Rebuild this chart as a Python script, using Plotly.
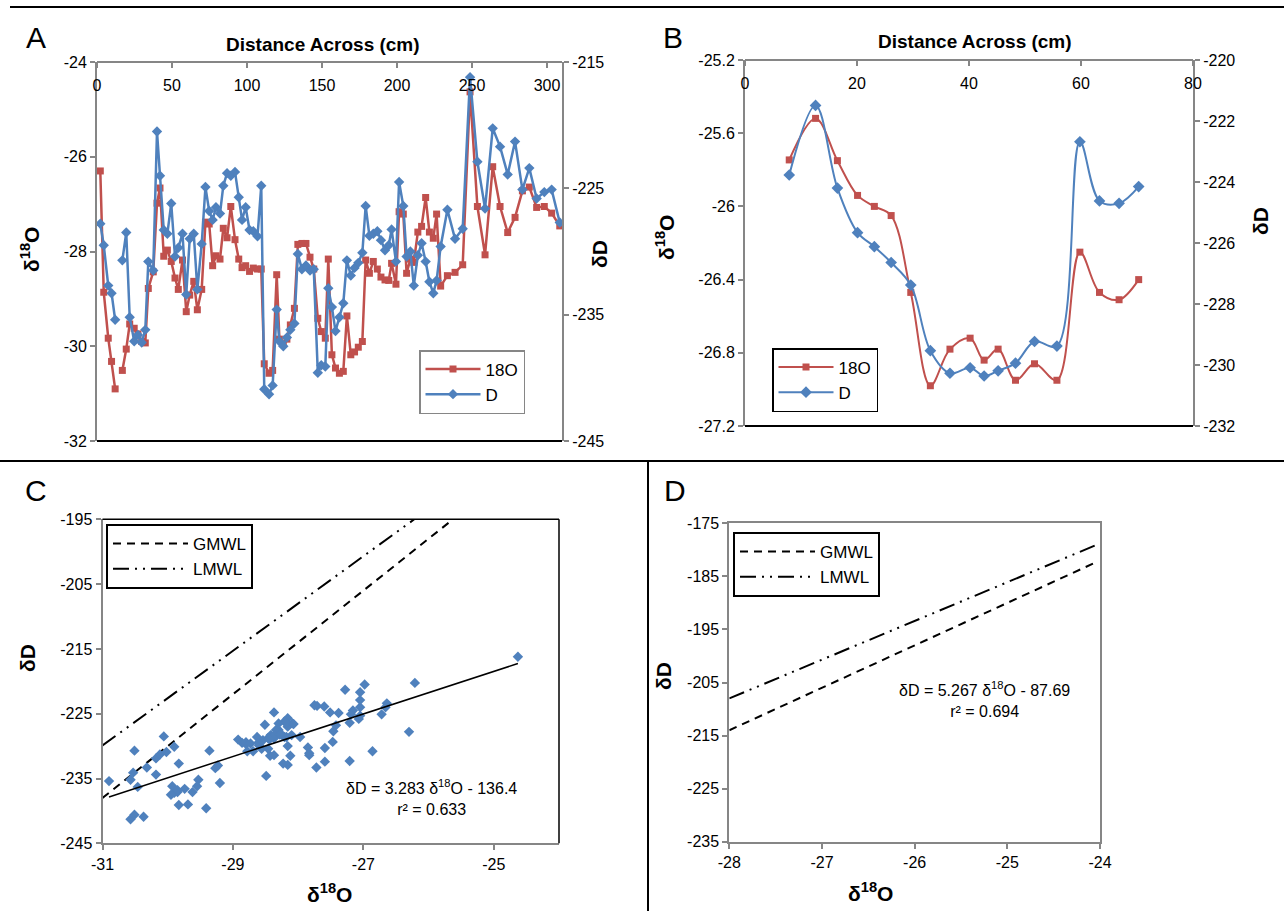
import plotly.graph_objects as go

W, H = 1284, 911
FONT = "Liberation Sans, Arial, sans-serif"
NARROW = "Liberation Sans Narrow, Arial Narrow, Liberation Sans, sans-serif"
RED = "#C0504D"
BLUE = "#4F81BD"
GRAY = "#868686"

# ---------------- Panel A data ----------------
a_dist = [2.2, 4.5, 7.5, 9.7, 12.1, 14.5, 16.9, 19.5, 21.8, 24.8, 27.3, 29.8, 32.2, 34.2, 37.5,
          40.0, 42.0, 44.5, 46.9, 49.5, 52.0, 54.2, 57.0, 59.5, 61.8, 64.5, 66.9, 69.8, 72.3,
          74.8, 77.1, 79.3, 82.0, 84.2, 86.7, 89.2, 92.0, 94.5, 96.7, 99.1, 101.7, 104.2, 107.0,
          109.5, 111.5, 114.7, 117.1, 119.8, 121.6, 124.2, 126.6, 128.9, 131.6, 133.9, 136.6,
          139.3, 142.0, 144.5, 147.2, 149.5, 152.2, 154.2, 156.6, 159.0, 161.6, 164.2, 166.6,
          169.2, 171.7, 174.2, 176.9, 179.1, 181.6, 184.2, 186.9, 189.3, 192.0, 194.5, 196.4,
          199.3, 201.4, 204.2, 206.4, 208.9, 211.2, 213.9, 216.4, 219.1, 221.6, 224.2, 226.4,
          229.1, 233.6, 238.7, 243.8, 248.7, 253.6, 258.7, 263.8, 268.7, 273.8, 278.7, 283.6,
          288.2, 293.1, 298.2, 303.1, 308.5]
a_o18 = [-26.30, -28.86, -29.83, -30.32, -30.90, None, -30.51, -30.06, -29.53, -29.62, -29.74,
         -29.90, -29.93, -28.78, -28.43, -26.98, -26.66, -28.10, -27.97, -28.21, -28.56, -28.80,
         -28.18, -29.27, -28.92, -28.63, -29.23, -28.80, -27.38, -27.42, -28.30, -28.09, -28.16,
         -27.51, -27.71, -27.05, -27.75, -28.16, -28.34, -28.30, -28.42, -28.35, -28.37, -28.37,
         -30.37, -30.57, -30.51, -28.49, -29.85, -29.95, -29.85, -29.55, -29.20, -27.85, -27.83,
         -27.83, -28.12, -28.37, -29.41, -29.69, -29.83, -28.16, -30.18, -30.46, -30.57, -30.53,
         -29.36, -30.18, -30.12, -30.02, -29.90, -28.18, -28.46, -28.21, -28.37, -28.54, -28.60,
         -28.61, -28.25, -28.69, -27.16, -27.21, -28.46, -28.16, -28.23, -27.59, -27.47, -26.86,
         -27.59, -27.72, -27.21, -28.73, -28.51, -28.44, -28.28, -24.63, -27.05, -28.07, -26.21,
         -27.05, -27.60, -27.28, -26.72, -26.64, -27.07, -27.05, -27.19, -27.46]
a_dD = [-227.8, -229.5, -232.7, -233.3, -235.4, None, -230.7, -228.5, -235.2, -237.1, -236.6,
        -237.2, -236.2, -230.8, -231.5, -220.5, -224.0, -228.3, -228.6, -226.2, -230.4, -229.7,
        -228.6, -233.4, -229.0, -228.6, -233.0, -229.4, -224.9, -226.8, -227.5, -226.5, -227.0,
        -224.8, -223.8, -224.0, -223.7, -225.7, -227.5, -226.5, -228.3, -228.4, -228.8, -224.8,
        -240.9, -241.3, -240.6, -234.6, -237.1, -237.5, -236.8, -236.2, -235.7, -230.2, -231.4,
        -231.1, -231.5, -231.4, -239.6, -239.0, -239.1, -232.9, -234.4, -236.3, -235.2, -234.1,
        -230.7, -231.9, -231.3, -230.9, -230.1, -226.4, -228.75, -228.6, -228.4, -229.1, -229.9,
        -229.5, -228.25, -230.8, -224.5, -226.4, -230.4, -230.0, -232.7, -230.3, -229.35, -230.8,
        -232.4, -233.3, -232.3, -229.6, -226.7, -229.0, -228.2, -216.2, -222.9, -226.6, -220.25,
        -221.7, -223.9, -221.3, -225.1, -223.4, -225.8, -225.3, -225.1, -227.7]

# ---------------- Panel B data ----------------
b_dist = [7.9, 12.6, 16.5, 20.1, 23.1, 26.1, 29.6, 33.1, 36.6, 40.2, 42.7, 45.2, 48.3, 51.7,
          55.7, 59.8, 63.3, 66.8, 70.3]
b_o18 = [-25.746, -25.519, -25.75, -25.94, -26.0, -26.05, -26.47, -26.98, -26.78, -26.72,
         -26.84, -26.78, -26.95, -26.86, -26.95, -26.25, -26.47, -26.51, -26.40]
b_dD = [-223.77, -221.49, -224.2, -225.66, -226.12, -226.64, -227.38, -229.53, -230.27, -230.09,
        -230.36, -230.19, -229.94, -229.23, -229.38, -222.68, -224.62, -224.7, -224.15]

# ---------------- Meteoric water lines & regressions ----------------
gmwl_slope, gmwl_int = 8.0, 10.0
lmwl_slope, lmwl_int = 7.3, -3.6
c_fit_slope, c_fit_int = 3.283, -136.4
c_r2 = 0.633
d_fit_slope, d_fit_int = 5.267, -87.69
d_r2 = 0.694

# tick labels
a_xticks = [0, 50, 100, 150, 200, 250, 300]
a_yl_ticks = [-32, -30, -28, -26, -24]
a_yr_ticks = [-245, -235, -225, -215]
b_xticks = [0, 20, 40, 60, 80]
b_yl_ticks = [-27.2, -26.8, -26.4, -26.0, -25.6, -25.2]
b_yl_labels = ["-27.2", "-26.8", "-26.4", "-26", "-25.6", "-25.2"]
b_yr_ticks = [-232, -230, -228, -226, -224, -222, -220]
c_xticks = [-31, -29, -27, -25]
c_yticks = [-245, -235, -225, -215, -205, -195]
d_xticks = [-28, -27, -26, -25, -24]
d_yticks = [-235, -225, -215, -205, -195, -185, -175]


def lab(v):
    return [str(x) for x in v]


def px(x):
    return x / W


def py(y):
    return 1 - y / H


fig = go.Figure()

# Panel A
fig.add_trace(go.Scatter(x=a_dist, y=a_o18, name="18O", mode="lines+markers",
                         line=dict(color=RED, width=2.5),
                         marker=dict(symbol="square", size=7, color=RED),
                         xaxis="x", yaxis="y", legend="legend"))
fig.add_trace(go.Scatter(x=a_dist, y=a_dD, name="D", mode="lines+markers",
                         line=dict(color=BLUE, width=2.5),
                         marker=dict(symbol="diamond", size=8, color=BLUE),
                         xaxis="x", yaxis="y2", legend="legend"))

# Panel B
fig.add_trace(go.Scatter(x=b_dist, y=b_o18, name="18O", mode="lines+markers",
                         line=dict(color=RED, width=2, shape="spline"),
                         marker=dict(symbol="square", size=7, color=RED),
                         xaxis="x3", yaxis="y3", legend="legend2"))
fig.add_trace(go.Scatter(x=b_dist, y=b_dD, name="D", mode="lines+markers",
                         line=dict(color=BLUE, width=2, shape="spline"),
                         marker=dict(symbol="diamond", size=9, color=BLUE),
                         xaxis="x3", yaxis="y4", legend="legend2"))

# Panel C
c_x = [o for o, d in zip(a_o18, a_dD) if o is not None and d is not None]
c_y = [d for o, d in zip(a_o18, a_dD) if o is not None and d is not None]
c_lo = -31.0
g_top_x = (-195 - gmwl_int) / gmwl_slope
l_top_x = (-195 - lmwl_int) / lmwl_slope
fig.add_trace(go.Scatter(x=[c_lo, g_top_x], y=[gmwl_slope * c_lo + gmwl_int, -195],
                         name="GMWL", mode="lines",
                         line=dict(color="black", width=2, dash="8px,6px"),
                         xaxis="x5", yaxis="y5", legend="legend3"))
fig.add_trace(go.Scatter(x=[c_lo, l_top_x], y=[lmwl_slope * c_lo + lmwl_int, -195],
                         name="LMWL", mode="lines",
                         line=dict(color="black", width=2, dash="16px,6px,2px,6px,2px,6px"),
                         xaxis="x5", yaxis="y5", legend="legend3"))
fig.add_trace(go.Scatter(x=c_x, y=c_y, mode="markers", showlegend=False,
                         marker=dict(symbol="diamond", size=8, color=BLUE),
                         xaxis="x5", yaxis="y5"))
fx = [min(c_x), max(c_x)]
fig.add_trace(go.Scatter(x=fx, y=[c_fit_slope * v + c_fit_int for v in fx], mode="lines",
                         showlegend=False, line=dict(color="black", width=1.5),
                         xaxis="x5", yaxis="y5"))

# Panel D
d_lo, d_hi = -28.0, -24.05
fig.add_trace(go.Scatter(x=[d_lo, d_hi], y=[gmwl_slope * d_lo + gmwl_int, gmwl_slope * d_hi + gmwl_int],
                         name="GMWL", mode="lines",
                         line=dict(color="black", width=2, dash="8px,6px"),
                         xaxis="x6", yaxis="y6", legend="legend4"))
fig.add_trace(go.Scatter(x=[d_lo, d_hi], y=[lmwl_slope * d_lo + lmwl_int, lmwl_slope * d_hi + lmwl_int],
                         name="LMWL", mode="lines",
                         line=dict(color="black", width=2, dash="16px,6px,2px,6px,2px,6px"),
                         xaxis="x6", yaxis="y6", legend="legend4"))

tickfont = dict(family=FONT, size=16, color="black")
narrowfont = dict(family=NARROW, size=16, color="black")
common = dict(showgrid=False, zeroline=False, showline=True, linecolor=GRAY, linewidth=2,
              tickcolor=GRAY, tickwidth=2, ticklen=5, automargin=False)

layout = dict(
    width=W, height=H, autosize=False, margin=dict(l=0, r=0, t=0, b=0, pad=0, autoexpand=False),
    paper_bgcolor="white", plot_bgcolor="white", font=dict(family=FONT, color="black"),
    # A : top axis line with labels underneath (free axis drawn at the top edge)
    xaxis=dict(domain=[px(97), px(562)], anchor="free", position=py(62), side="bottom",
               range=[0, 310], tickvals=a_xticks, ticktext=lab(a_xticks), ticks="outside",
               ticklabelstandoff=4, tickfont=tickfont, **common),
    yaxis=dict(domain=[py(441), py(62)], anchor="x", range=[-32, -24],
               tickvals=a_yl_ticks, ticktext=lab(a_yl_ticks), ticks="outside",
               tickfont=tickfont, **common),
    yaxis2=dict(overlaying="y", anchor="x", side="right", range=[-245, -215],
                tickvals=a_yr_ticks, ticktext=lab(a_yr_ticks), ticks="outside",
                tickfont=tickfont, **common),
    # B
    xaxis3=dict(domain=[px(745), px(1193)], anchor="free", position=py(60), side="bottom",
                range=[0, 80], tickvals=b_xticks, ticktext=lab(b_xticks), ticks="outside",
                ticklabelstandoff=4, tickfont=tickfont, **common),
    yaxis3=dict(domain=[py(426), py(60)], anchor="x3", range=[-27.2, -25.2],
                tickvals=b_yl_ticks, ticktext=b_yl_labels, ticks="outside",
                tickfont=tickfont, **common),
    yaxis4=dict(overlaying="y3", anchor="x3", side="right", range=[-232, -220],
                tickvals=b_yr_ticks, ticktext=lab(b_yr_ticks), ticks="outside",
                tickfont=tickfont, **common),
    # C
    xaxis5=dict(domain=[px(102.5), px(559)], anchor="y5", range=[-31, -24],
                tickvals=c_xticks, ticktext=lab(c_xticks), ticks="outside",
                tickfont=tickfont, **common),
    yaxis5=dict(domain=[py(843.3), py(519.3)], anchor="x5", range=[-245, -195],
                tickvals=c_yticks, ticktext=lab(c_yticks), ticks="outside",
                tickfont=tickfont, **common),
    # D
    xaxis6=dict(domain=[px(729.3), px(1100)], anchor="y6", range=[-28, -24],
                tickvals=d_xticks, ticktext=lab(d_xticks), ticks="outside", mirror=True,
                tickfont=narrowfont, **common),
    yaxis6=dict(domain=[py(841.7), py(523.3)], anchor="x6", range=[-235, -175],
                tickvals=d_yticks, ticktext=lab(d_yticks), ticks="outside", mirror=True,
                tickfont=narrowfont, **common),
)

leg_common = dict(xanchor="left", yanchor="top", bgcolor="white",
                  font=dict(family=FONT, size=17, color="black"), tracegroupgap=0)
layout["legend"] = dict(x=px(419), y=py(350), bordercolor=GRAY, borderwidth=1.5,
                        itemwidth=55, **leg_common)
layout["legend2"] = dict(x=px(772), y=py(348), bordercolor="black", borderwidth=1.5,
                         itemwidth=55, **leg_common)
layout["legend3"] = dict(x=px(106), y=py(524), bordercolor="black", borderwidth=2,
                         itemwidth=75, **leg_common)
layout["legend4"] = dict(x=px(733), y=py(532), bordercolor="black", borderwidth=2,
                         itemwidth=75, **leg_common)
fig.update_layout(**layout)


def ann(text, x, y, size=16, bold=False, angle=0, family=FONT):
    fig.add_annotation(text=f"<b>{text}</b>" if bold else text, x=px(x), y=py(y),
                       xref="paper", yref="paper", showarrow=False, textangle=angle,
                       font=dict(family=family, size=size, color="black"),
                       xanchor="center", yanchor="middle")


# panel labels
ann("A", 36, 37, size=30)
ann("B", 673, 38, size=30)
ann("C", 36, 490, size=30)
ann("D", 675, 490, size=30)
# titles
ann("Distance Across (cm)", 323, 45, size=19, bold=True)
ann("Distance Across (cm)", 975, 42, size=19, bold=True)
ann("δ<sup>18</sup>O", 30, 250, size=21, bold=True, angle=-90)
ann("δD", 599, 254, size=21, bold=True, angle=-90)
ann("δ<sup>18</sup>O", 665, 238, size=21, bold=True, angle=-90)
ann("δD", 1260, 221, size=21, bold=True, angle=-90)
ann("δD", 27, 658, size=21, bold=True, angle=-90)
ann("δ<sup>18</sup>O", 330, 893, size=21, bold=True)
ann("δD", 663, 676, size=21, bold=True, angle=-90)
ann("δ<sup>18</sup>O", 870, 892, size=21, bold=True)
# regression equations
ann(f"δD = {c_fit_slope} δ<sup>18</sup>O - {abs(c_fit_int)}<br>r² = {c_r2}", 431, 797, size=16)
ann(f"δD = {d_fit_slope} δ<sup>18</sup>O - {abs(d_fit_int)}<br>r² = {d_r2}", 985, 699, size=16,
    family=NARROW)


def line(x0, y0, x1, y1, w=2, color="black"):
    fig.add_shape(type="line", xref="paper", yref="paper", x0=px(x0), y0=py(y0),
                  x1=px(x1), y1=py(y1), line=dict(color=color, width=w))


# separators
line(10, 7, 1284, 7, 2)
line(0, 461, 1284, 461, 2)
line(648, 461, 648, 911, 2)
# plot borders
line(97, 441, 562, 441, 2)
line(745, 426, 1193, 426, 2)
line(102.5, 519.3, 559, 519.3, 1.5)
line(559, 519.3, 559, 843.3, 1.5)

fig.write_html("out.html", config={"displayModeBar": False},
               post_script="document.body.style.margin='0';document.body.style.overflow='hidden';")
